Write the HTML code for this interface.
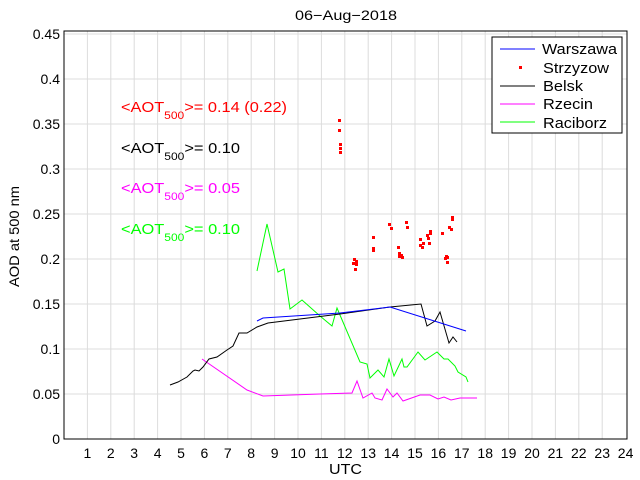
<!DOCTYPE html>
<html><head><meta charset="utf-8"><style>
html,body{margin:0;padding:0;background:#fff}
svg{display:block;font-family:"Liberation Sans",sans-serif}
</style></head><body>
<svg width="640" height="480" viewBox="0 0 640 480" xmlns="http://www.w3.org/2000/svg">
<rect width="640" height="480" fill="#fff"/>
<g stroke="#dcdcdc" stroke-width="1">
<line x1="87.4" y1="31" x2="87.4" y2="439"/><line x1="110.8" y1="31" x2="110.8" y2="439"/><line x1="134.2" y1="31" x2="134.2" y2="439"/><line x1="157.6" y1="31" x2="157.6" y2="439"/><line x1="181" y1="31" x2="181" y2="439"/><line x1="204.4" y1="31" x2="204.4" y2="439"/><line x1="227.8" y1="31" x2="227.8" y2="439"/><line x1="251.2" y1="31" x2="251.2" y2="439"/><line x1="274.6" y1="31" x2="274.6" y2="439"/><line x1="298" y1="31" x2="298" y2="439"/><line x1="321.4" y1="31" x2="321.4" y2="439"/><line x1="344.8" y1="31" x2="344.8" y2="439"/><line x1="368.2" y1="31" x2="368.2" y2="439"/><line x1="391.6" y1="31" x2="391.6" y2="439"/><line x1="415" y1="31" x2="415" y2="439"/><line x1="438.4" y1="31" x2="438.4" y2="439"/><line x1="461.8" y1="31" x2="461.8" y2="439"/><line x1="485.2" y1="31" x2="485.2" y2="439"/><line x1="508.6" y1="31" x2="508.6" y2="439"/><line x1="532" y1="31" x2="532" y2="439"/><line x1="555.4" y1="31" x2="555.4" y2="439"/><line x1="578.8" y1="31" x2="578.8" y2="439"/><line x1="602.2" y1="31" x2="602.2" y2="439"/>
<line x1="64" y1="394" x2="627" y2="394"/><line x1="64" y1="349" x2="627" y2="349"/><line x1="64" y1="304" x2="627" y2="304"/><line x1="64" y1="259" x2="627" y2="259"/><line x1="64" y1="214" x2="627" y2="214"/><line x1="64" y1="169" x2="627" y2="169"/><line x1="64" y1="124" x2="627" y2="124"/><line x1="64" y1="79" x2="627" y2="79"/><line x1="64" y1="34" x2="627" y2="34"/>
</g>
<rect x="64" y="31" width="563" height="408" fill="none" stroke="#000" stroke-width="1"/>
<g fill="#000" font-size="14" text-anchor="end">
<text x="60" y="444">0</text><text x="60" y="399">0.05</text><text x="60" y="354">0.1</text><text x="60" y="309">0.15</text><text x="60" y="264">0.2</text><text x="60" y="219">0.25</text><text x="60" y="174">0.3</text><text x="60" y="129">0.35</text><text x="60" y="84">0.4</text><text x="60" y="39">0.45</text>
</g>
<g fill="#000" font-size="14" text-anchor="middle">
<text x="87.4" y="458">1</text><text x="110.8" y="458">2</text><text x="134.2" y="458">3</text><text x="157.6" y="458">4</text><text x="181" y="458">5</text><text x="204.4" y="458">6</text><text x="227.8" y="458">7</text><text x="251.2" y="458">8</text><text x="274.6" y="458">9</text><text x="298" y="458">10</text><text x="321.4" y="458">11</text><text x="344.8" y="458">12</text><text x="368.2" y="458">13</text><text x="391.6" y="458">14</text><text x="415" y="458">15</text><text x="438.4" y="458">16</text><text x="461.8" y="458">17</text><text x="485.2" y="458">18</text><text x="508.6" y="458">19</text><text x="532" y="458">20</text><text x="555.4" y="458">21</text><text x="578.8" y="458">22</text><text x="602.2" y="458">23</text><text x="625.6" y="458">24</text>
</g>
<text x="329" y="474" font-size="15" textLength="33" lengthAdjust="spacingAndGlyphs">UTC</text>
<text x="295" y="20" font-size="14" textLength="102" lengthAdjust="spacingAndGlyphs">06−Aug−2018</text>
<text transform="translate(19,287) rotate(-90)" font-size="14" textLength="101" lengthAdjust="spacingAndGlyphs">AOD at 500 nm</text>
<g fill="none" stroke-width="1">
<polyline stroke="#00ff00" points="257,271 267,224 278,272 284,269 290,309 302,300 320,316 332,326 337,308 360,362 367,364 370,378 378,370 384,377 389,359 394,376 402,359 404,367 407,367 418,352 425,360 437,352 444,359 448,359 455,366 458,372 466,377 468,382"/>
<polyline stroke="#ff00ff" points="202,359 247,390 263,396 320,394 352,393 357,381 363,398 372,393 375,398 382,400 387,389 393,397 397,393 403,401 420,395 430,395 438,399 444,397 451,400 460,398 477,398"/>
<polyline stroke="#000" points="170,385 178,382 187,377 193,371 195,370 199,371 203,367 209,359 217,357 227,350 233,346 239,333 247,333 257,327 268,323 340,314 390,307 421,304 427,326 435,321 440,312 449,343 453,337 457,342"/>
<polyline stroke="#0000ff" points="257,321 263,318 340,313 390,307 466,331"/>
</g>
<g fill="#ff0000">
<rect x="338" y="119" width="3" height="3"/><rect x="338" y="129" width="3" height="3"/><rect x="339" y="143" width="3" height="3"/><rect x="339" y="147" width="3" height="3"/><rect x="339" y="151" width="3" height="3"/>
<rect x="353" y="258" width="3" height="3"/><rect x="352" y="262" width="3" height="3"/><rect x="355" y="263" width="3" height="3"/><rect x="354" y="268" width="3" height="3"/><rect x="355" y="260" width="3" height="3"/>
<rect x="372" y="236" width="3" height="3"/><rect x="372" y="247" width="3" height="3"/><rect x="372" y="249" width="3" height="3"/>
<rect x="388" y="223" width="3" height="3"/><rect x="390" y="227" width="3" height="3"/>
<rect x="397" y="246" width="3" height="3"/><rect x="398" y="252" width="3" height="3"/><rect x="400" y="254" width="3" height="3"/><rect x="401" y="256" width="3" height="3"/><rect x="398" y="255" width="3" height="3"/>
<rect x="405" y="221" width="3" height="3"/><rect x="406" y="226" width="3" height="3"/>
<rect x="419" y="238" width="3" height="3"/><rect x="419" y="244" width="3" height="3"/><rect x="421" y="246" width="3" height="3"/><rect x="422" y="242" width="3" height="3"/><rect x="426" y="234" width="3" height="3"/><rect x="427" y="237" width="3" height="3"/><rect x="429" y="232" width="3" height="3"/><rect x="429" y="230" width="3" height="3"/><rect x="428" y="242" width="3" height="3"/>
<rect x="441" y="232" width="3" height="3"/><rect x="445" y="255" width="3" height="3"/><rect x="446" y="256" width="3" height="3"/><rect x="444" y="257" width="3" height="3"/><rect x="446" y="261" width="3" height="3"/>
<rect x="448" y="226" width="3" height="3"/><rect x="450" y="228" width="3" height="3"/><rect x="451" y="216" width="3" height="3"/><rect x="451" y="218" width="3" height="3"/>
</g>
<g font-size="15">
<text x="121" y="112" fill="#ff0000" textLength="166" lengthAdjust="spacingAndGlyphs">&lt;AOT<tspan font-size="11" dy="7">500</tspan><tspan dy="-7">&gt;= 0.14 (0.22)</tspan></text>
<text x="121" y="153" fill="#000" textLength="119" lengthAdjust="spacingAndGlyphs">&lt;AOT<tspan font-size="11" dy="7">500</tspan><tspan dy="-7">&gt;= 0.10</tspan></text>
<text x="121" y="193" fill="#ff00ff" textLength="119" lengthAdjust="spacingAndGlyphs">&lt;AOT<tspan font-size="11" dy="7">500</tspan><tspan dy="-7">&gt;= 0.05</tspan></text>
<text x="121" y="234" fill="#00ff00" textLength="119" lengthAdjust="spacingAndGlyphs">&lt;AOT<tspan font-size="11" dy="7">500</tspan><tspan dy="-7">&gt;= 0.10</tspan></text>
</g>
<rect x="492" y="37" width="130" height="96" fill="#fff" stroke="#000" stroke-width="1"/>
<g stroke-width="1">
<line x1="500" y1="49" x2="535" y2="49" stroke="#0000ff"/>
<rect x="519" y="66" width="3" height="3" fill="#ff0000"/>
<line x1="500" y1="86" x2="535" y2="86" stroke="#000"/>
<line x1="500" y1="104" x2="535" y2="104" stroke="#ff00ff"/>
<line x1="500" y1="122" x2="535" y2="122" stroke="#00ff00"/>
</g>
<g font-size="15" fill="#000">
<text x="542" y="54" textLength="75" lengthAdjust="spacingAndGlyphs">Warszawa</text>
<text x="543" y="73" textLength="66" lengthAdjust="spacingAndGlyphs">Strzyzow</text>
<text x="543" y="91" textLength="40" lengthAdjust="spacingAndGlyphs">Belsk</text>
<text x="543" y="109" textLength="50" lengthAdjust="spacingAndGlyphs">Rzecin</text>
<text x="543" y="128" textLength="64" lengthAdjust="spacingAndGlyphs">Raciborz</text>
</g>
</svg>
</body></html>
